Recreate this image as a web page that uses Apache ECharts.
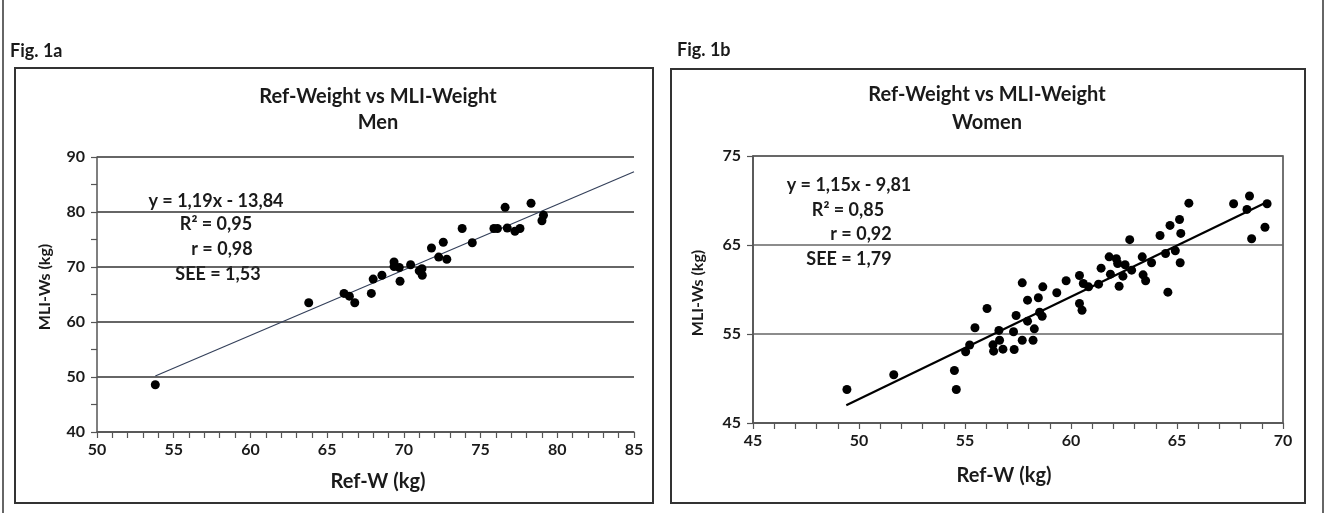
<!DOCTYPE html>
<html><head><meta charset="utf-8">
<script src="https://cdn.jsdelivr.net/npm/echarts@6/dist/echarts.min.js"></script>
<style>html,body{margin:0;padding:0;background:#fff}#c{width:1326px;height:513px}</style>
</head><body><div id="c"></div>
<script>
// Men (Fig. 1a): [Ref-W, MLI-Ws]
const menRefW = [53.8,63.8,66.1,66.45,66.8,67.88,68.0,68.57,69.36,69.36,69.7,69.75,70.44,71.0,71.18,71.2,71.8,72.27,72.57,72.8,73.8,74.46,75.87,76.1,76.6,76.74,77.24,77.57,78.29,79.0,79.1];
const menMLI  = [48.6,63.5,65.2,64.7,63.5,65.2,67.8,68.5,70.9,70.1,69.9,67.4,70.4,69.3,69.7,68.5,73.45,71.8,74.5,71.4,77.0,74.4,77.0,77.0,80.85,77.1,76.5,77.0,81.6,78.4,79.4];
// Women (Fig. 1b)
const womenRefW = [49.43,51.64,54.5,54.59,55.03,55.22,55.47,56.04,56.32,56.35,56.6,56.63,56.79,57.29,57.32,57.41,57.7,57.7,57.95,57.95,58.21,58.27,58.46,58.52,58.64,58.67,59.33,59.77,60.4,60.4,60.52,60.58,60.83,61.3,61.42,61.8,61.86,62.14,62.2,62.27,62.45,62.55,62.77,62.86,63.36,63.4,63.52,63.8,64.2,64.46,64.57,64.67,64.92,65.12,65.18,65.15,65.56,67.67,68.3,68.42,68.52,69.15,69.25];
const womenMLI  = [48.76,50.42,50.9,48.76,53.0,53.77,55.7,57.87,53.78,53.07,55.4,54.3,53.3,55.25,53.26,57.08,60.75,54.3,58.8,56.44,54.3,55.58,59.07,57.45,57.0,60.3,59.63,60.98,61.57,58.43,57.67,60.67,60.3,60.6,62.4,63.67,61.72,63.45,62.92,60.37,61.5,62.78,65.6,62.17,63.67,61.65,60.98,63.0,66.07,64.04,59.7,67.2,64.35,67.87,66.3,63.0,69.7,69.63,69.0,70.5,65.7,67.0,69.63];
// Trend line end points
const menFitX = [53.8, 85];
const menFitY = [50.18, 87.31];
const womenFitX = [49.4, 69.3];
const womenFitY = [47.0, 69.9];
// Tick ranges
const menX = {min:50, max:85, interval:5};
const menY = {min:40, max:90, interval:10};
const womenX = {min:45, max:70, interval:5};
const womenY = {min:45, max:75, interval:10};
const menStats = ['y = 1,19x - 13,84','R² = 0,95','r = 0,98','SEE = 1,53'];
const womenStats = ['y = 1,15x - 9,81','R² = 0,85','r = 0,92','SEE = 1,79'];

const FONT = "'Lato','Liberation Sans',sans-serif";
const TXT = '#1a1a1a';
const zip = (a,b)=>a.map((v,i)=>[v,b[i]]);

function xAx(r, gi){
  return {type:'value', gridIndex:gi, min:r.min, max:r.max, interval:r.interval,
    axisLine:{show:true, onZero:false, lineStyle:{color:'#555', width:1.5}},
    axisTick:{show:true, length:6, lineStyle:{color:'#555', width:1.2}},
    minorTick:{show:true, splitNumber:5, length:6, lineStyle:{color:'#555', width:1.2}},
    axisLabel:{color:TXT, fontFamily:FONT, fontWeight:'bold', fontSize:16, margin:10},
    splitLine:{show:false}};
}
function yAx(r, gi, minorSplit, gridColor){
  return {type:'value', gridIndex:gi, min:r.min, max:r.max, interval:r.interval,
    axisLine:{show:true, onZero:false, lineStyle:{color:'#555', width:1.5}},
    axisTick:{show:true, length:6, lineStyle:{color:'#555', width:1.2}},
    minorTick:{show:minorSplit>0, splitNumber:minorSplit||2, length:6, lineStyle:{color:'#555', width:1.2}},
    axisLabel:{color:TXT, fontFamily:FONT, fontWeight:'bold', fontSize:16, margin:12},
    splitLine:{show:true, lineStyle:{color:gridColor, width:1.6}}};
}
function txt(x,y,t,size){
  return {type:'text', x:x, y:y, style:{text:t, fill:TXT, font:'bold '+(size||18)+'px '+FONT, textAlign:'center', textVerticalAlign:'middle'}};
}
function txtL(x,y,t,size){
  const g = txt(x,y,t,size); g.style.textAlign='left'; return g;
}
function txtV(x,y,t,size){
  const g = txt(x,y,t,size); g.rotation = Math.PI/2; return g;
}
const graphics = [
  {type:'line', shape:{x1:3,y1:0,x2:3,y2:513}, style:{stroke:'#333', lineWidth:1.5}},
  {type:'line', shape:{x1:1323,y1:0,x2:1323,y2:513}, style:{stroke:'#333', lineWidth:1.5}},
  {type:'rect', shape:{x:15,y:68,width:638,height:435}, style:{fill:'none', stroke:'#333', lineWidth:2}},
  {type:'rect', shape:{x:671,y:69,width:634,height:434}, style:{fill:'none', stroke:'#333', lineWidth:2}},
  txtL(10,51,'Fig. 1a',18),
  txtL(677,50,'Fig. 1b',18),
  txt(378,97,'Ref-Weight vs MLI-Weight',20),
  txt(378,123,'Men',20),
  txt(987,95,'Ref-Weight vs MLI-Weight',20),
  txt(987,123,'Women',20),
  txt(378,482,'Ref-W (kg)',20),
  txt(1004,476,'Ref-W (kg)',20),
  txtV(45,287,'MLI-Ws (kg)',16),
  txtV(698,293,'MLI-Ws (kg)',16),
  txt(216,201,menStats[0]), txt(216,224,menStats[1]), txt(222,249,menStats[2]), txt(218,274,menStats[3]),
  txt(849,185,womenStats[0]), txt(848,210,womenStats[1]), txt(861,234,womenStats[2]), txt(849,259,womenStats[3])
];

const chart = echarts.init(document.getElementById('c'), null, {renderer:'canvas'});
chart.setOption({
  backgroundColor:'#fff', animation:false,
  grid:[
    {left:97, top:157, width:537, height:275, show:false},
    {left:753, top:156, width:530, height:267, show:true, borderColor:'#444', borderWidth:1.5, backgroundColor:'transparent'}
  ],
  xAxis:[xAx(menX,0), xAx(womenX,1)],
  yAxis:[yAx(menY,0,2,'#333'), yAx(womenY,1,0,'#666')],
  series:[
    {type:'line', xAxisIndex:0, yAxisIndex:0, data:zip(menFitX,menFitY), symbol:'none', lineStyle:{color:'#34405a', width:1.2}, z:3},
    {type:'scatter', xAxisIndex:0, yAxisIndex:0, data:zip(menRefW,menMLI), symbolSize:9, itemStyle:{color:'#000', opacity:1}, z:4},
    {type:'line', xAxisIndex:1, yAxisIndex:1, data:zip(womenFitX,womenFitY), symbol:'none', lineStyle:{color:'#000', width:2.2}, z:3},
    {type:'scatter', xAxisIndex:1, yAxisIndex:1, data:zip(womenRefW,womenMLI), symbolSize:9, itemStyle:{color:'#000', opacity:1}, z:4}
  ],
  graphic:graphics
});
</script></body></html>
